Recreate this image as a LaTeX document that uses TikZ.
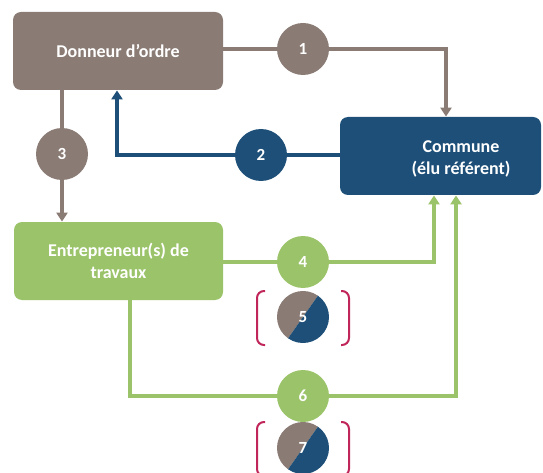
\documentclass[tikz,border=0pt]{standalone}
\usepackage{fontspec}
\setmainfont{Carlito}
\usetikzlibrary{arrows.meta}
\definecolor{taupe}{HTML}{8A7B74}
\definecolor{navy}{HTML}{1D4F78}
\definecolor{leaf}{HTML}{9BC369}
\definecolor{crimson}{HTML}{C0265A}

\begin{document}
\begin{tikzpicture}[x=1pt, y=-1pt, thick,
		box/.style = {rounded corners=8pt, minimum width=210pt, minimum height=78pt, inner sep=0pt},
		lbl/.style = {text=white, align=center, font=\fontsize{18}{22}\selectfont\bfseries},
		num/.style = {circle, minimum size=52pt, inner sep=0pt, text=white, font=\fontsize{17}{19}\selectfont\bfseries},
		link/.style = {line width=3.5pt},
		tip/.style = {-{Triangle[width=11pt,length=9pt]}},
		bracket/.style = {crimson, line width=2pt, rounded corners=7pt}]
		\useasboundingbox (0,0) rectangle (543,473);
		\node[box, lbl, fill=taupe] (donneur) at (118,51) {Donneur d’ordre};
		\node[box, fill=navy, minimum width=201pt] (commune) at (440.5,156) {};
		\node[lbl] (communetxt) at (461,159) {Commune\\(élu référent)};
		\node[box, lbl, fill=leaf, minimum width=209pt] (entrepreneur) at (118.5,261) {Entrepreneur(s) de\\travaux};
		
		\node[num, fill=taupe] (c1) at (303,49) {1};
		\node[num, fill=navy] (c2) at (261,155) {2};
		\node[num, fill=taupe] (c3) at (62,154) {3};
		\node[num, fill=leaf] (c4) at (303,262) {4};
		\node[num, fill=leaf] (c6) at (303,396) {6};
		\foreach \n/\y in {5/317, 7/448} {
			\fill[taupe] (303,\y) ++(-55:26) arc[start angle=-55, end angle=-235, radius=26] -- cycle;
			\fill[navy] (303,\y) ++(-55:26) arc[start angle=-55, end angle=125, radius=26] -- cycle;
			\node[num] (c\n) at (303,\y) {\n};
			\draw[bracket] (265,\y-26) -- (257,\y-26) -- (257,\y+28) -- (265,\y+28);
			\draw[bracket] (341,\y-26) -- (349,\y-26) -- (349,\y+28) -- (341,\y+28);
		}
		
		\coordinate (k1) at (446,49);
		\coordinate (k2) at (117,155);
		\coordinate (k4) at (434,262);
		\coordinate (k6a) at (130,396);
		\coordinate (k6b) at (456,396);
		
		\draw[link, taupe] (donneur.east |- c1) -- (c1);
		\draw[link, taupe, tip] (c1) -- (k1) -- (k1 |- commune.north);
		\draw[link, navy] (commune.west |- c2) -- (c2);
		\draw[link, navy, tip] (c2) -- (k2) -- (k2 |- donneur.south);
		\draw[link, taupe] (c3 |- donneur.south) -- (c3);
		\draw[link, taupe, tip] (c3) -- (c3 |- entrepreneur.north);
		\draw[link, leaf] (entrepreneur.east |- c4) -- (c4);
		\draw[link, leaf, tip] (c4) -- (k4) -- (k4 |- commune.south);
		\draw[link, leaf] (k6a |- entrepreneur.south) -- (k6a) -- (c6);
		\draw[link, leaf, tip] (c6) -- (k6b) -- (k6b |- commune.south);
	\end{tikzpicture}
\end{document}
